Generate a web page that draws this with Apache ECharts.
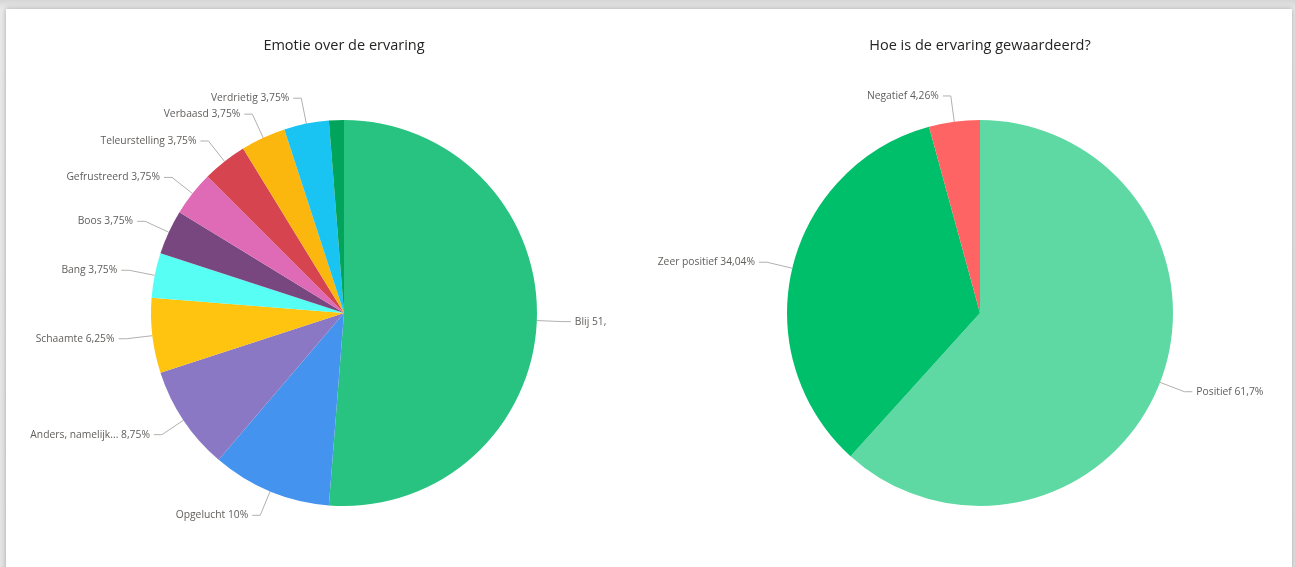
<!DOCTYPE html>
<html>
<head>
<meta charset="utf-8">
<script src="https://cdn.jsdelivr.net/npm/echarts@6/dist/echarts.min.js"></script>
<style>
  html, body { margin: 0; padding: 0; width: 1295px; height: 567px; overflow: hidden;
    background: linear-gradient(to bottom, #d6d6d6 0px, #e9e9e9 9px, #e4e4e4 100%); }
  #card { position: absolute; left: 6px; top: 9px; width: 1286px; height: 570px; background: #fff;
    box-shadow: 0 0 5px rgba(0,0,0,0.28); }
  #left { position: absolute; left: 0; top: 0; width: 600px; height: 558px; }
  #right { position: absolute; left: 600px; top: 0; width: 686px; height: 558px; }
</style>
</head>
<body>
<div id="card">
  <div id="left"></div>
  <div id="right"></div>
</div>
<script>
// ---- data ----
const emotionTitle = 'Emotie over de ervaring';
const emotionNames = ['Blij', 'Opgelucht', 'Anders, namelijk...', 'Schaamte', 'Bang', 'Boos',
  'Gefrustreerd', 'Teleurstelling', 'Verbaasd', 'Verdrietig', 'Overig'];
const emotionValues = [41, 8, 7, 5, 3, 3, 3, 3, 3, 3, 1];
const emotionColors = ['#29C381', '#4493EE', '#8A78C4', '#FEC40F', '#56FEF3', '#79477F',
  '#DF6BB6', '#D5444F', '#FCB70E', '#19C3F2', '#02A45B'];
const emotionHiddenLabels = ['Overig'];

const ratingTitle = 'Hoe is de ervaring gewaardeerd?';
const ratingNames = ['Positief', 'Zeer positief', 'Negatief'];
const ratingValues = [29, 16, 2];
const ratingColors = ['#5FD9A3', '#00BF6B', '#FF6464'];

const fontFam = '"Segoe UI", "Open Sans", "Noto Sans", sans-serif';

function fmtLabel(p) {
  let s = String(Math.round(p.percent * 100) / 100).replace('.', ',');
  return p.name + ' ' + s + '%';
}

function buildPie(title, names, values, colors, hidden, center) {
  const data = names.map((n, i) => ({
    name: n, value: values[i], itemStyle: { color: colors[i] },
    label: { show: hidden.indexOf(n) < 0 },
    labelLine: { show: hidden.indexOf(n) < 0 }
  }));
  return {
    animation: false,
    title: {
      text: title, left: center[0] - 5, top: 24, textAlign: 'center',
      textStyle: { fontFamily: fontFam, fontSize: 14.5, fontWeight: 'normal', color: '#252423' }
    },
    series: [{
      type: 'pie',
      center: center,
      radius: [0, 193],
      startAngle: 90,
      clockwise: true,
      avoidLabelOverlap: true,
      percentPrecision: 2,
      data: data,
      label: {
        show: true, position: 'outside', formatter: fmtLabel, overflow: 'none',
        fontFamily: fontFam, fontSize: 10.3, color: '#605E5C', distanceToLabelLine: 4
      },
      labelLine: { show: true, length: 26, length2: 8, lineStyle: { color: '#b3b0ad', width: 1 } },
      emphasis: { disabled: true }
    }]
  };
}

const left = echarts.init(document.getElementById('left'), null, { renderer: 'canvas' });
left.setOption(buildPie(emotionTitle, emotionNames, emotionValues, emotionColors, emotionHiddenLabels, [338, 304]));
const right = echarts.init(document.getElementById('right'), null, { renderer: 'canvas' });
right.setOption(buildPie(ratingTitle, ratingNames, ratingValues, ratingColors, [], [374, 304]));
</script>
</body>
</html>
